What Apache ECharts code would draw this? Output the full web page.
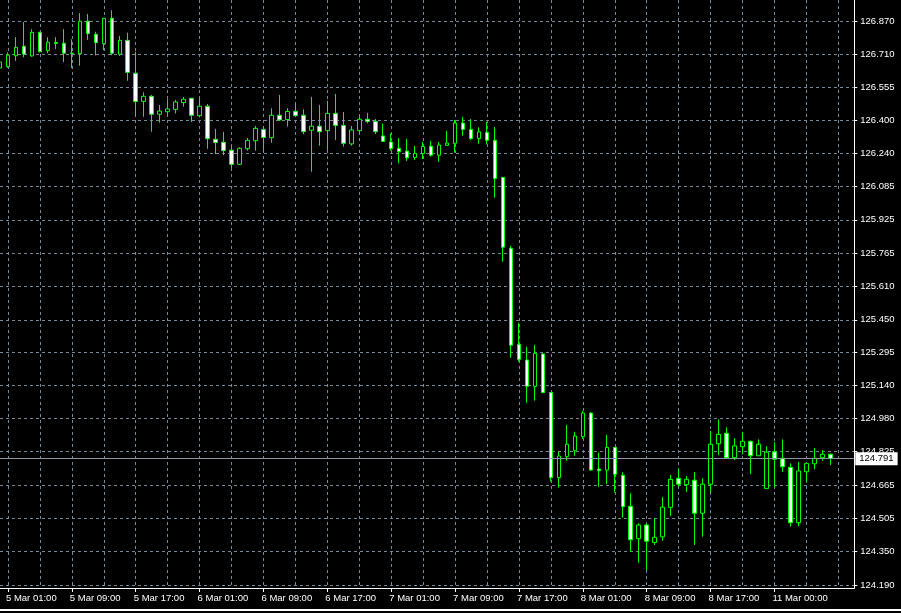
<!DOCTYPE html>
<html><head><meta charset="utf-8">
<script src="https://cdn.jsdelivr.net/npm/echarts@6/dist/echarts.min.js"></script>
<style>html,body{margin:0;padding:0;background:#000;overflow:hidden}#c{width:901px;height:613px}</style>
</head><body><div id="c"></div>
<script>
// Hourly candles (USD/JPY-style quotes), index 0 = 5 Mar 00:00
const opens = [126.647,126.653,126.705,126.750,126.704,126.816,126.729,126.768,126.764,126.717,
126.715,126.869,126.807,126.762,126.883,126.712,126.778,126.622,126.488,126.512,
126.427,126.439,126.450,126.482,126.503,126.420,126.465,126.308,126.294,126.256,
126.189,126.263,126.301,126.355,126.316,126.422,126.402,126.441,126.422,126.351,
126.370,126.349,126.431,126.374,126.286,126.349,126.403,126.393,126.324,126.295,
126.265,126.252,126.222,126.240,126.275,126.232,126.279,126.289,126.385,126.355,
126.311,126.341,126.303,126.127,125.790,125.334,125.259,125.134,125.288,125.105,
124.700,124.800,124.828,124.895,125.007,124.741,124.736,124.844,124.711,124.564,
124.410,124.475,124.392,124.419,124.559,124.697,124.667,124.688,124.531,124.669,
124.861,124.911,124.795,124.847,124.873,124.804,124.648,124.823,124.792,124.749,
124.486,124.728,124.766,124.795,124.811];
const closes = [126.675,126.708,126.745,126.712,126.816,126.724,126.769,126.763,126.717,126.716,
126.869,126.810,126.767,126.883,126.717,126.778,126.626,126.487,126.512,126.427,
126.442,126.452,126.485,126.498,126.422,126.465,126.311,126.292,126.254,126.189,
126.265,126.303,126.360,126.317,126.422,126.400,126.440,126.420,126.344,126.370,
126.344,126.431,126.374,126.289,126.352,126.403,126.393,126.344,126.298,126.263,
126.249,126.220,126.241,126.274,126.232,126.281,126.290,126.385,126.355,126.311,
126.343,126.303,126.121,125.795,125.329,125.262,125.134,125.291,125.104,124.700,
124.803,124.859,124.898,125.007,124.736,124.733,124.844,124.716,124.562,124.405,
124.475,124.398,124.417,124.560,124.692,124.669,124.692,124.531,124.669,124.859,
124.906,124.795,124.851,124.873,124.804,124.859,124.821,124.787,124.752,124.486,
124.732,124.768,124.792,124.811,124.791];
const lows = [126.637,126.648,126.681,126.698,126.700,126.721,126.717,126.737,126.675,126.647,
126.658,126.780,126.707,126.732,126.708,126.704,126.586,126.419,126.415,126.344,
126.387,126.420,126.431,126.463,126.391,126.412,126.263,126.238,126.233,126.170,
126.186,126.254,126.254,126.254,126.292,126.395,126.368,126.415,126.332,126.154,
126.278,126.256,126.305,126.273,126.278,126.333,126.384,126.333,126.296,126.254,
126.194,126.205,126.210,126.214,126.225,126.201,126.278,126.244,126.325,126.305,
126.287,126.284,126.030,125.726,125.270,125.251,125.056,125.066,125.103,124.681,
124.653,124.780,124.804,124.885,124.732,124.657,124.670,124.629,124.510,124.348,
124.296,124.261,124.380,124.400,124.518,124.657,124.633,124.380,124.419,124.629,
124.808,124.793,124.784,124.811,124.717,124.803,124.647,124.657,124.728,124.467,
124.470,124.681,124.740,124.781,124.760];
const highs = [126.694,126.721,126.793,126.864,126.831,126.819,126.793,126.793,126.831,126.783,
126.907,126.903,126.819,126.885,126.921,126.799,126.814,126.724,126.531,126.518,
126.471,126.498,126.495,126.509,126.504,126.506,126.476,126.357,126.343,126.276,
126.270,126.314,126.371,126.368,126.455,126.518,126.456,126.476,126.450,126.509,
126.471,126.491,126.523,126.438,126.371,126.419,126.434,126.404,126.382,126.336,
126.313,126.309,126.276,126.296,126.300,126.295,126.347,126.400,126.414,126.404,
126.365,126.390,126.366,126.128,125.801,125.436,125.322,125.330,125.291,125.106,
124.823,124.950,124.918,125.017,125.012,124.819,124.903,124.845,124.726,124.626,
124.483,124.483,124.507,124.607,124.713,124.740,124.708,124.727,124.697,124.923,
124.977,124.939,124.887,124.918,124.876,124.882,124.849,124.868,124.882,124.768,
124.774,124.769,124.841,124.831,124.815];

// Price-scale tick labels as printed on the right axis
const priceTicks = [124.190,124.350,124.505,124.665,124.825,124.980,125.140,125.295,125.450,
125.610,125.765,125.925,126.085,126.240,126.400,126.555,126.710,126.870];

// Time categories (hourly); weekend gap before 11 Mar
const categories = [];
function fmtTime(day, hour){ return day + ' Mar ' + String(hour).padStart(2,'0') + ':00'; }
for (let i = 0; i < 96; i++) categories.push(fmtTime(5 + Math.floor(i / 24), i % 24));
categories.push('10 Mar 23:00');
for (let i = 0; i < 11; i++) categories.push(fmtTime(11, i));

const lastPrice = closes[closes.length - 1];
const candleData = opens.map((o, i) => [o, closes[i], lows[i], highs[i]]);

const chart = echarts.init(document.getElementById('c'), null, {renderer: 'canvas'});
const FONT = '"Liberation Sans", Arial, sans-serif';
const GRID = '#778899';
const isLabelIdx = (idx) => (idx - 1) % 8 === 0 && idx <= 100;

chart.setOption({
  backgroundColor: '#000000',
  animation: false,
  grid: { left: -1.7, top: 0, width: 856, bottom: 25, containLabel: false },
  xAxis: {
    type: 'category',
    data: categories,
    boundaryGap: false,
    axisLine: { show: true, lineStyle: { color: '#ffffff', width: 1 } },
    axisTick: { show: true, length: 4, lineStyle: { color: '#ffffff' }, interval: isLabelIdx },
    axisLabel: { show: true, color: '#ffffff', fontFamily: FONT, fontSize: 9.5,
      align: 'left', margin: 5, padding: [0, 0, 0, -2], interval: isLabelIdx },
    splitLine: { show: true, lineStyle: { color: GRID, type: [3, 3], width: 1 },
      interval: (idx) => (idx - 1) % 4 === 0 }
  },
  yAxis: {
    type: 'value',
    position: 'right',
    scale: true,
    min: 124.1757,
    max: 126.9698,
    axisLine: { show: true, lineStyle: { color: '#ffffff', width: 1 } },
    axisTick: { show: true, inside: false, length: 3, lineStyle: { color: '#ffffff' },
      customValues: priceTicks },
    axisLabel: { show: true, color: '#ffffff', fontFamily: FONT, fontSize: 9.5, margin: 6,
      customValues: priceTicks, formatter: (v) => Number(v).toFixed(3) },
    splitLine: { show: true, lineStyle: { color: GRID, type: [3, 3], width: 1 } }
  },
  series: [{
    type: 'candlestick',
    data: candleData,
    barWidth: 4,
    itemStyle: {
      color: '#000000', color0: '#ffffff',
      borderColor: '#00ff00', borderColor0: '#00ff00', borderColorDoji: '#00ff00',
      borderWidth: 1
    },
    markLine: {
      silent: true,
      symbol: ['none', 'none'],
      lineStyle: { color: '#8a96a3', type: 'solid', width: 1 },
      label: { show: true, position: 'end', distance: 1, color: '#000000',
        backgroundColor: '#ffffff', padding: [2, 4, 1, 4], fontFamily: FONT, fontSize: 9.5,
        formatter: () => lastPrice.toFixed(3) },
      data: [{ yAxis: lastPrice }]
    }
  }],
  graphic: [{
    type: 'rect', shape: { x: 0, y: 609, width: 901, height: 2 },
    style: { fill: '#ffffff' }, silent: true
  }]
});
</script>
</body></html>
